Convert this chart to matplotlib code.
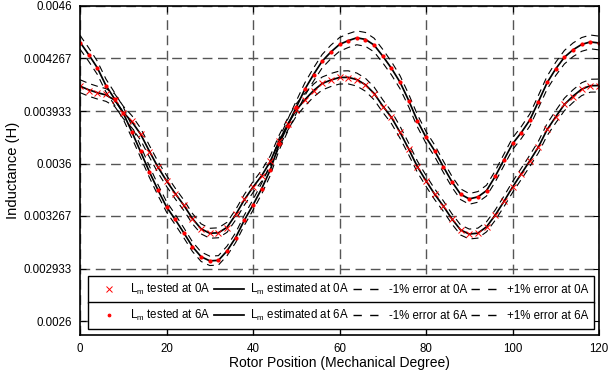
import numpy as np
import matplotlib.pyplot as plt
from matplotlib.lines import Line2D

plt.rcParams["font.family"] = ["Liberation Sans", "DejaVu Sans"]
plt.rcParams["mathtext.fontset"] = "custom"
plt.rcParams["mathtext.rm"] = "Liberation Sans"

# ─── Data ────────────────────────────────────────────
angle = list(range(0, 121, 2))

# inductance at 0 A, estimated (H)
est_0a = [0.004091, 0.004068, 0.004050, 0.004035, 0.004003, 0.003925, 0.003865, 0.003787,
          0.003680, 0.003578, 0.003490, 0.003410, 0.003335, 0.003250, 0.003185, 0.003157,
          0.003160, 0.003195, 0.003275, 0.003370, 0.003450, 0.003522, 0.003613, 0.003740,
          0.003848, 0.003940, 0.004005, 0.004063, 0.004108, 0.004130, 0.004146, 0.004147,
          0.004133, 0.004100, 0.004045, 0.003965, 0.003893, 0.003798, 0.003692, 0.003580,
          0.003490, 0.003405, 0.003330, 0.003248, 0.003178, 0.003152, 0.003158, 0.003198,
          0.003272, 0.003358, 0.003450, 0.003533, 0.003617, 0.003705, 0.003815, 0.003897,
          0.003975, 0.004028, 0.004072, 0.004094, 0.004095]

# inductance at 6 A, estimated (H)
est_6a = [0.004370, 0.004292, 0.004208, 0.004095, 0.004010, 0.003920, 0.003800, 0.003675,
          0.003550, 0.003433, 0.003325, 0.003245, 0.003160, 0.003072, 0.003008, 0.002982,
          0.002985, 0.003045, 0.003130, 0.003240, 0.003337, 0.003440, 0.003560, 0.003720,
          0.003840, 0.003957, 0.004072, 0.004165, 0.004250, 0.004308, 0.004356, 0.004380,
          0.004398, 0.004388, 0.004352, 0.004282, 0.004205, 0.004116, 0.004000, 0.003872,
          0.003766, 0.003681, 0.003580, 0.003484, 0.003405, 0.003375, 0.003388, 0.003428,
          0.003518, 0.003622, 0.003725, 0.003795, 0.003876, 0.003993, 0.004113, 0.004201,
          0.004275, 0.004322, 0.004356, 0.004372, 0.004365]

# inductance at 0 A, tested (H)
test_0a = [0.004091, 0.004063, 0.004046, 0.004042, 0.004006, 0.003919, 0.003868, 0.003787,
           0.003675, 0.003575, 0.003490, 0.003409, 0.003337, 0.003246, 0.003182, 0.003157,
           0.003161, 0.003193, 0.003278, 0.003373, 0.003448, 0.003518, 0.003613, 0.003745,
           0.003851, 0.003940, 0.004004, 0.004063, 0.004112, 0.004127, 0.004148, 0.004144,
           0.004131, 0.004101, 0.004042, 0.003961, 0.003893, 0.003798, 0.003692, 0.003579,
           0.003490, 0.003405, 0.003331, 0.003246, 0.003176, 0.003150, 0.003157, 0.003197,
           0.003274, 0.003359, 0.003452, 0.003533, 0.003617, 0.003702, 0.003819, 0.003897,
           0.003978, 0.004025, 0.004074, 0.004095, 0.004095]

# inductance at 6 A, tested (H)
test_6a = [0.004367, 0.004292, 0.004208, 0.004089, 0.004010, 0.003919, 0.003798, 0.003677,
           0.003549, 0.003433, 0.003324, 0.003250, 0.003159, 0.003070, 0.003006, 0.002980,
           0.002985, 0.003044, 0.003129, 0.003242, 0.003337, 0.003437, 0.003558, 0.003724,
           0.003840, 0.003957, 0.004074, 0.004165, 0.004250, 0.004307, 0.004356, 0.004377,
           0.004399, 0.004386, 0.004350, 0.004280, 0.004205, 0.004116, 0.003999, 0.003872,
           0.003766, 0.003681, 0.003579, 0.003484, 0.003405, 0.003373, 0.003388, 0.003426,
           0.003518, 0.003622, 0.003728, 0.003792, 0.003876, 0.003993, 0.004116, 0.004201,
           0.004275, 0.004322, 0.004356, 0.004371, 0.004365]

ERROR_BAND = 0.01
x_ticks = [0, 20, 40, 60, 80, 100, 120]
y_ticks = [0.0026, 0.002933, 0.003267, 0.0036, 0.003933, 0.004267, 0.0046]
y_tick_labels = ["0.0026", "0.002933", "0.003267", "0.0036", "0.003933", "0.004267", "0.0046"]

# ─── Plot ────────────────────────────────────────────
W, H = 610, 378
fig = plt.figure(figsize=(W / 100, H / 100), dpi=100)
ax = fig.add_axes([80 / W, 1 - 335 / H, 519 / W, 329 / H])

x = np.array(angle)
band_dash = (0, (6.3, 4.5))
for est in (np.array(est_0a), np.array(est_6a)):
    ax.plot(x, est * (1 - ERROR_BAND), color="black", lw=0.8, ls=band_dash)
    ax.plot(x, est * (1 + ERROR_BAND), color="black", lw=0.8, ls=band_dash)
    ax.plot(x, est, color="black", lw=1.25)

ax.plot(x, test_0a, ls="none", marker="x", ms=4.2, mew=0.7, color="red")
ax.plot(x, test_6a, ls="none", marker=".", ms=4, color="red")

# y range runs a bit below the last tick to leave room for the legend
ax.set_xlim(0, 120)
ax.set_ylim(0.0026 - 14 / 157500, 0.0046)
ax.set_xticks(x_ticks)
ax.set_yticks(y_ticks)
ax.set_yticklabels(y_tick_labels)
ax.tick_params(direction="in", top=True, right=True, labelsize=8.3, length=4, pad=6)
ax.grid(True, color="#555555", ls=(0, (7, 4)), lw=1.0)
for s in ax.spines.values():
    s.set_linewidth(1.2)
ax.set_xlabel("Rotor Position (Mechanical Degree)", fontsize=10, labelpad=0.5)
ax.set_ylabel("Inductance (H)", fontsize=10.6, labelpad=2.5)

# ─── Legends (two stacked boxes) ─────────────────────
def make_legend(current, marker, ms, top_px):
    handles = [
        Line2D([], [], ls="none", marker=marker, ms=ms, mew=0.7, color="red"),
        Line2D([], [], color="black", lw=1.25),
        Line2D([], [], color="black", lw=1.0, ls=(0, (6, 6))),
        Line2D([], [], color="black", lw=1.0, ls=(0, (6, 6))),
    ]
    labels = [
        f"L$_\\mathrm{{m}}$ tested at {current}",
        f"L$_\\mathrm{{m}}$ estimated at {current}",
        f"-1% error at {current}",
        f"+1% error at {current}",
    ]
    leg = fig.legend(handles, labels, ncol=4, loc="upper left",
                     bbox_to_anchor=(88 / W, 1 - top_px / H, 506 / W, 0),
                     mode="expand", fontsize=8.3, frameon=True, fancybox=False,
                     edgecolor="black", framealpha=1, handlelength=2.6,
                     handletextpad=0.5, borderpad=0.52, borderaxespad=0,
                     columnspacing=0.8)
    leg.get_frame().set_linewidth(1.0)
    return leg

make_legend("0A", "x", 4.2, 276)
make_legend("6A", ".", 4, 302)

fig.savefig("out.png", dpi=100)
